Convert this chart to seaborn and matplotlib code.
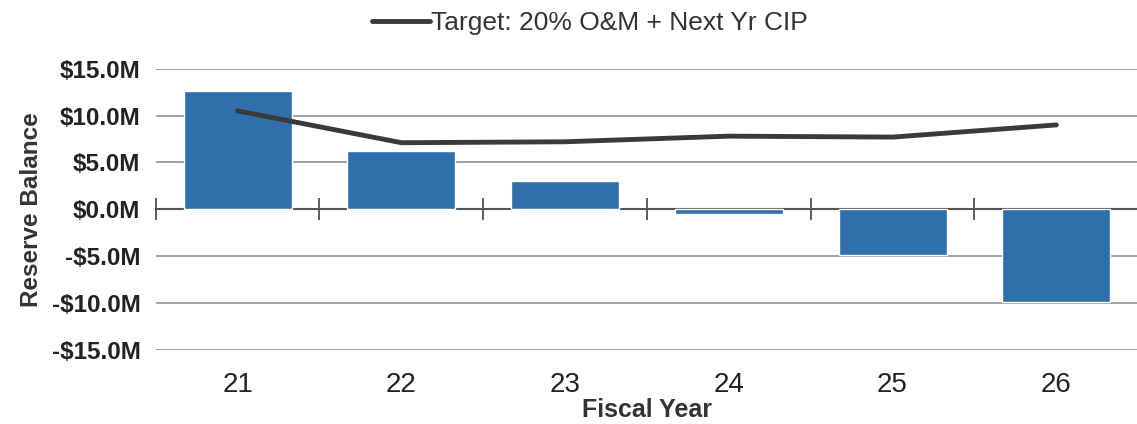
import matplotlib
matplotlib.use("Agg")
import matplotlib.pyplot as plt
import seaborn as sns
import pandas as pd
from matplotlib.lines import Line2D
from matplotlib.ticker import FuncFormatter, FixedLocator

years = ["21", "22", "23", "24", "25", "26"]
reserve = [12.6, 6.2, 3.0, -0.5, -4.9, -9.9]
target = [10.5, 7.1, 7.2, 7.8, 7.7, 9.0]
yticks = [-15, -10, -5, 0, 5, 10, 15]
legend_label = "Target: 20% O&M + Next Yr CIP"

sns.set_theme(style="white")
plt.rcParams["font.family"] = ["Liberation Sans", "DejaVu Sans"]

df = pd.DataFrame({"year": years, "reserve": reserve, "target": target})

fig = plt.figure(figsize=(11.37, 4.24), dpi=100)
ax = fig.add_axes([0.137, 0.175, 0.864, 0.663])

sns.barplot(data=df, x="year", y="reserve", color="#2f6fac", saturation=1,
            width=0.66, ax=ax, zorder=3)
sns.pointplot(data=df, x="year", y="target", color="#3a3a3a", markers="",
              linewidth=3.5, ax=ax, zorder=4)

ax.set_ylim(-15, 15)
ax.set_xlim(-0.5, 5.5)
ax.yaxis.set_major_locator(FixedLocator(yticks))
ax.yaxis.set_major_formatter(FuncFormatter(
    lambda v, p: ("-$" if v < 0 else "$") + f"{abs(v):.1f}M"))
ax.grid(axis="y", color="#9a9a9a", linewidth=1.3, zorder=0)
ax.grid(axis="x", visible=False)
for s in ax.spines.values():
    s.set_visible(False)

ax.tick_params(axis="y", length=0, pad=11, labelsize=17.5)
for lab in ax.get_yticklabels():
    lab.set_fontweight("bold")
    lab.set_color("#222222")
ax.tick_params(axis="x", length=0, pad=16, labelsize=20)
for lab in ax.get_xticklabels():
    lab.set_color("#222222")

# zero axis with boundary tick marks
ax.axhline(0, color="#555555", linewidth=1.5, zorder=2)
sec = ax.secondary_xaxis(0.5)
sec.set_xticks([i - 0.5 for i in range(len(years) + 1)])
sec.set_xticklabels([])
sec.tick_params(axis="x", direction="inout", length=16, width=1.2, color="#444444")
sec.spines["bottom"].set_visible(False)

ax.set_xlabel("Fiscal Year", fontsize=18, fontweight="bold", color="#333333", labelpad=0)
ax.set_ylabel("Reserve Balance", fontsize=17.5, fontweight="bold", color="#333333", labelpad=6)

handle = Line2D([], [], color="#3a3a3a", linewidth=3.5)
fig.legend([handle], [legend_label], loc="center", bbox_to_anchor=(0.519, 0.945),
           frameon=False, fontsize=19, handlelength=2.2, handletextpad=0.05,
           labelcolor="#333333")

fig.savefig("out.png", dpi=100)
